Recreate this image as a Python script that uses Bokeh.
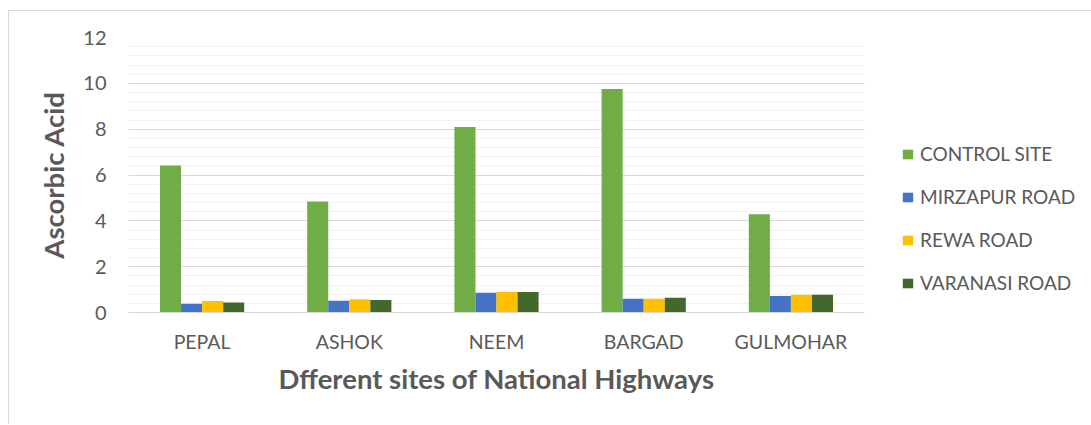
from bokeh.plotting import figure
from bokeh.models import ColumnDataSource, FactorRange, Range1d, SingleIntervalTicker, Legend, LegendItem
from bokeh.transform import dodge
from bokeh.embed import file_html
from bokeh.resources import INLINE

sites = ["PEPAL", "ASHOK", "NEEM", "BARGAD", "GULMOHAR"]
control_site = [6.41, 4.84, 8.09, 9.75, 4.29]
mirzapur_road = [0.38, 0.51, 0.86, 0.60, 0.72]
rewa_road = [0.50, 0.58, 0.90, 0.60, 0.77]
varanasi_road = [0.44, 0.55, 0.90, 0.64, 0.77]

series_names = ["CONTROL SITE", "MIRZAPUR ROAD", "REWA ROAD", "VARANASI ROAD"]
series_keys = ["control", "mirzapur", "rewa", "varanasi"]
colors = ["#70AD47", "#4472C4", "#FFC000", "#43682B"]

src = ColumnDataSource(dict(site=sites, control=control_site, mirzapur=mirzapur_road,
                            rewa=rewa_road, varanasi=varanasi_road))

FONT = "Lato"
TXT = "#595959"

p = figure(x_range=FactorRange(*sites), y_range=Range1d(0, 12),
           frame_width=736, frame_height=275, output_backend="svg", toolbar_location=None,
           min_border_left=119, min_border_right=225, min_border_top=26, min_border_bottom=112)
p.outline_line_color = None
p.styles = {"margin": "10px 0 0 8px", "border-top": "1px solid #d9d9d9",
            "border-left": "1px solid #d9d9d9", "border-right": "1px solid #d9d9d9"}

w = 0.143
offsets = [-1.5 * w, -0.5 * w, 0.5 * w, 1.5 * w]
renderers = []
for key, off, c in zip(series_keys, offsets, colors):
    r = p.vbar(x=dodge("site", off, range=p.x_range), top=key, width=w, source=src,
               fill_color=c, line_color=None)
    renderers.append(r)

p.yaxis.ticker = SingleIntervalTicker(interval=2, num_minor_ticks=5)
p.ygrid.grid_line_color = "#d9d9d9"
p.ygrid.grid_line_width = 1
p.ygrid.minor_grid_line_color = "#f2f2f2"
p.ygrid.minor_grid_line_width = 1
p.xgrid.grid_line_color = None

p.yaxis.axis_line_color = None
p.yaxis.major_tick_line_color = None
p.yaxis.minor_tick_line_color = None
p.yaxis.major_label_text_font = FONT
p.yaxis.major_label_text_font_size = "20px"
p.yaxis.major_label_text_color = TXT
p.yaxis.major_label_standoff = 16
p.yaxis.axis_label = "Ascorbic Acid"
p.yaxis.axis_label_text_font = FONT
p.yaxis.axis_label_text_font_size = "27.5px"
p.yaxis.axis_label_text_font_style = "bold"
p.yaxis.axis_label_text_color = TXT
p.yaxis.axis_label_standoff = 10

p.xaxis.axis_line_color = "#d9d9d9"
p.xaxis.major_tick_line_color = None
p.xaxis.minor_tick_line_color = None
p.xaxis.major_label_text_font = FONT
p.xaxis.major_label_text_font_size = "19.5px"
p.xaxis.major_label_text_color = TXT
p.xaxis.major_label_standoff = 11
p.xaxis.axis_label = "Dfferent sites of National Highways"
p.xaxis.axis_label_text_font = FONT
p.xaxis.axis_label_text_font_size = "27.5px"
p.xaxis.axis_label_text_font_style = "bold"
p.xaxis.axis_label_text_color = TXT
p.xaxis.axis_label_standoff = 6

legend = Legend(items=[LegendItem(label=n, renderers=[r]) for n, r in zip(series_names, renderers)],
                location=(37, 18), orientation="vertical",
                glyph_width=13, glyph_height=12, label_standoff=6,
                label_height=20, spacing=20, padding=0, margin=0,
                label_text_font=FONT, label_text_font_size="19px", label_text_color=TXT,
                border_line_color=None, background_fill_alpha=0)
p.add_layout(legend, "right")

open("out.html", "w").write(file_html(p, INLINE))
